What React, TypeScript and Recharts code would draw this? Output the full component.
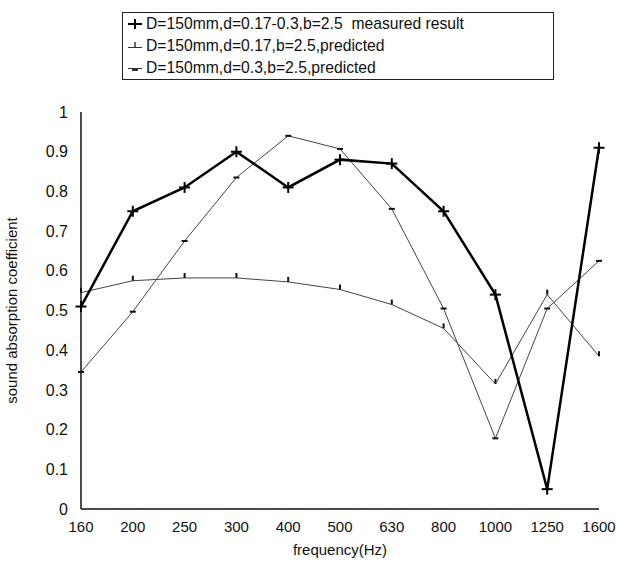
import { LineChart, Line, XAxis, YAxis, Legend } from 'recharts';

const frequencies = ['160', '200', '250', '300', '400', '500', '630', '800', '1000', '1250', '1600'];
const measured = [0.51, 0.75, 0.81, 0.9, 0.81, 0.88, 0.87, 0.75, 0.54, 0.05, 0.91];
const predicted017 = [0.545, 0.575, 0.582, 0.582, 0.572, 0.553, 0.515, 0.455, 0.315, 0.54, 0.385];
const predicted03 = [0.345, 0.497, 0.675, 0.835, 0.94, 0.907, 0.756, 0.505, 0.178, 0.505, 0.625];
const yTicks = [0, 0.1, 0.2, 0.3, 0.4, 0.5, 0.6, 0.7, 0.8, 0.9, 1];

const seriesNames = [
  'D=150mm,d=0.17-0.3,b=2.5  measured result',
  'D=150mm,d=0.17,b=2.5,predicted',
  'D=150mm,d=0.3,b=2.5,predicted',
];

const data = frequencies.map((f, i) => ({
  freq: f,
  measured: measured[i],
  p017: predicted017[i],
  p03: predicted03[i],
}));

const FONT = '"Liberation Sans", Arial, sans-serif';

// markers
const PlusDot = (props: any) => {
  const { cx, cy } = props;
  if (cx == null || cy == null) return null;
  return (
    <g stroke="#000" strokeWidth={2}>
      <line x1={cx - 5.5} y1={cy} x2={cx + 5.5} y2={cy} />
      <line x1={cx} y1={cy - 5.5} x2={cx} y2={cy + 5.5} />
    </g>
  );
};

const VTickDot = (props: any) => {
  const { cx, cy } = props;
  if (cx == null || cy == null) return null;
  return <line x1={cx} y1={cy - 5} x2={cx} y2={cy} stroke="#111" strokeWidth={2} />;
};

const HTickDot = (props: any) => {
  const { cx, cy } = props;
  if (cx == null || cy == null) return null;
  return <line x1={cx - 3} y1={cy} x2={cx + 3} y2={cy} stroke="#111" strokeWidth={2} />;
};

const LegendIcon = ({ kind }: { kind: number }) => (
  <svg width={16} height={14} style={{ marginRight: 3, flexShrink: 0 }}>
    {kind === 0 && (
      <g stroke="#000" strokeWidth={2}>
        <line x1={1} y1={7} x2={15} y2={7} />
        <line x1={8} y1={2} x2={8} y2={12} />
      </g>
    )}
    {kind === 1 && (
      <g stroke="#333">
        <line x1={1} y1={8.5} x2={15} y2={8.5} strokeWidth={1} />
        <line x1={8} y1={3} x2={8} y2={8} strokeWidth={1.5} />
      </g>
    )}
    {kind === 2 && (
      <g stroke="#333">
        <line x1={1} y1={7.5} x2={15} y2={7.5} strokeWidth={1} />
        <line x1={5} y1={9} x2={11} y2={9} strokeWidth={2} />
      </g>
    )}
  </svg>
);

const renderLegend = () => (
  <div
    style={{
      border: '1px solid #222',
      boxSizing: 'border-box',
      width: 432,
      height: 68,
      padding: '0 0 0 4px',
      fontFamily: FONT,
      fontSize: 15.7,
      color: '#111',
      background: '#fff',
    }}
  >
    {seriesNames.map((name, i) => (
      <div key={name} style={{ display: 'flex', alignItems: 'center', height: 22, whiteSpace: 'pre' }}>
        <LegendIcon kind={i} />
        <span>{name}</span>
      </div>
    ))}
  </div>
);

export default function App() {
  return (
    <div style={{ position: 'absolute', left: 0, top: 0, width: 617, height: 561, background: '#fff' }}>
      <LineChart
        width={617}
        height={561}
        data={data}
        margin={{ top: 112, right: 18, bottom: 0, left: 0 }}
        style={{ fontFamily: FONT }}
      >
        <XAxis
          dataKey="freq"
          height={52}
          axisLine={{ stroke: '#111', strokeWidth: 1.5 }}
          tickLine={false}
          tickMargin={6}
          interval={0}
          tick={{ fill: '#111', fontSize: 15 }}
          label={{ value: 'frequency(Hz)', position: 'insideBottom', offset: 6, fill: '#111', fontSize: 15 }}
        />
        <YAxis
          width={81}
          domain={[0, 1]}
          ticks={yTicks}
          interval={0}
          axisLine={{ stroke: '#111', strokeWidth: 1.5 }}
          tickLine={false}
          tickMargin={7}
          tick={{ fill: '#111', fontSize: 16 }}
          label={{
            value: 'sound absorption coefficient',
            angle: -90,
            position: 'insideLeft',
            offset: 12,
            fill: '#111',
            fontSize: 15,
            style: { textAnchor: 'middle' },
          }}
        />
        <Legend
          layout="horizontal"
          verticalAlign="middle"
          align="center"
          content={renderLegend}
          wrapperStyle={{ position: 'absolute', top: 12, left: 122, width: 432, height: 68 }}
        />
        <Line
          dataKey="p017"
          name={seriesNames[1]}
          type="linear"
          stroke="#444"
          strokeWidth={1}
          dot={<VTickDot />}
          activeDot={false}
          isAnimationActive={false}
        />
        <Line
          dataKey="p03"
          name={seriesNames[2]}
          type="linear"
          stroke="#444"
          strokeWidth={1}
          dot={<HTickDot />}
          activeDot={false}
          isAnimationActive={false}
        />
        <Line
          dataKey="measured"
          name={seriesNames[0]}
          type="linear"
          stroke="#000"
          strokeWidth={2.5}
          dot={<PlusDot />}
          activeDot={false}
          isAnimationActive={false}
        />
      </LineChart>
    </div>
  );
}
